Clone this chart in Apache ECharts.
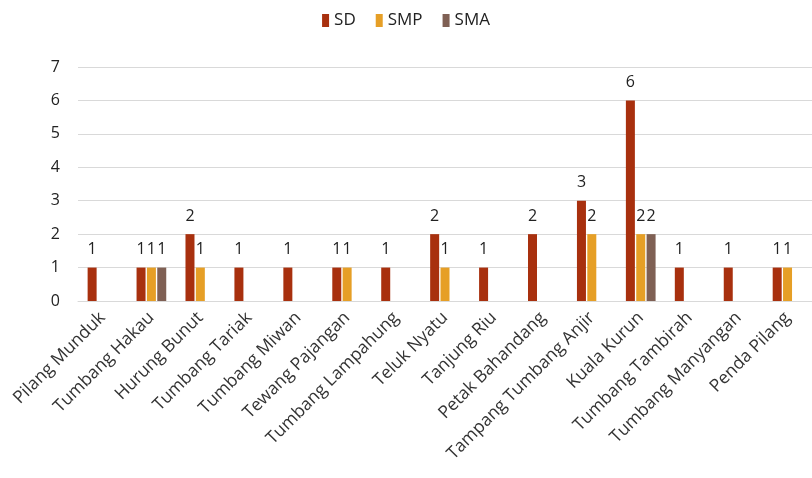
<!DOCTYPE html>
<html>
<head>
<meta charset="utf-8">
<script src="https://cdn.jsdelivr.net/npm/echarts@6/dist/echarts.min.js"></script>
<style>html,body{margin:0;padding:0;background:#fff;}#c{width:812px;height:478px;}</style>
</head>
<body>
<div id="c"></div>
<script>
const categories = ["Pilang Munduk","Tumbang Hakau","Hurung Bunut","Tumbang Tariak","Tumbang Miwan","Tewang Pajangan","Tumbang Lampahung","Teluk Nyatu","Tanjung Riu","Petak Bahandang","Tampang Tumbang Anjir","Kuala Kurun","Tumbang Tambirah","Tumbang Manyangan","Penda Pilang"];
const sd  = [1,1,2,1,1,1,1,2,1,2,3,6,1,1,1];
const smp = [null,1,1,null,null,1,null,1,null,null,2,2,null,null,1];
const sma = [null,1,null,null,null,null,null,null,null,null,null,2,null,null,null];
const yTicks = [0,1,2,3,4,5,6,7];

const font = "'Open Sans', 'Liberation Sans', sans-serif";
function mk(name, data, color){
  return {
    name, type:'bar', data, barWidth: 9, barGap: '15%',
    itemStyle:{color},
    label:{show:true, position:'top', distance:10, color:'#222', fontSize:16, fontFamily:font,
      formatter:p => (p.value==null ? '' : p.value)}
  };
}
const chart = echarts.init(document.getElementById('c'));
chart.setOption({
  animation:false,
  legend:{top:7, left:'center', itemWidth:7, itemHeight:13, itemGap:20,
    textStyle:{fontSize:17, color:'#222', fontFamily:font}, icon:'rect'},
  grid:{left:78, right:-6, top:67, bottom:177},
  xAxis:{type:'category', data:categories,
    axisLine:{lineStyle:{color:'#d9d9d9'}}, axisTick:{show:false},
    axisLabel:{rotate:45, interval:0, margin:14, fontSize:17.5, color:'#333', fontFamily:font}},
  yAxis:{type:'value', min:0, max:7, interval:1,
    axisLabel:{fontSize:16, color:'#222', fontFamily:font, margin:18, formatter:v=>yTicks.includes(v)?String(v):''},
    splitLine:{lineStyle:{color:'#d9d9d9', width:1}}},
  series:[mk('SD', sd, '#A8300E'), mk('SMP', smp, '#E69F26'), mk('SMA', sma, '#7F6054')]
});
</script>
</body>
</html>
